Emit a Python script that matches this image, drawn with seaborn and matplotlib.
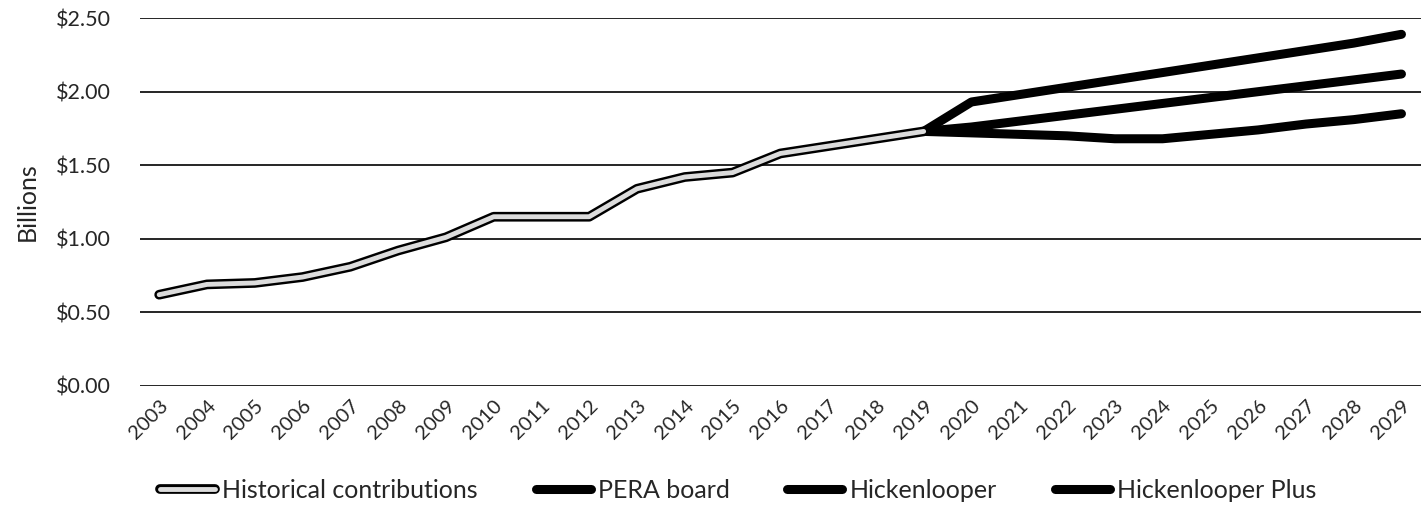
import matplotlib
matplotlib.use("Agg")
import matplotlib.pyplot as plt
import matplotlib.patheffects as pe
import seaborn as sns

sns.set_theme(style="white")
plt.rcParams["font.family"] = ["Lato", "DejaVu Sans"]

hist_years = list(range(2003, 2020))
hist_values = [0.62, 0.69, 0.70, 0.74, 0.81, 0.92, 1.01, 1.15, 1.15, 1.15,
               1.34, 1.42, 1.45, 1.58, 1.63, 1.68, 1.73]
proj_years = list(range(2019, 2030))
pera_board = [1.73, 1.72, 1.71, 1.70, 1.68, 1.68, 1.71, 1.74, 1.78, 1.81, 1.85]
hickenlooper = [1.73, 1.76, 1.80, 1.84, 1.88, 1.92, 1.96, 2.00, 2.04, 2.08, 2.12]
hickenlooper_plus = [1.73, 1.93, 1.98, 2.03, 2.08, 2.13, 2.18, 2.23, 2.28, 2.33, 2.39]
all_years = list(range(2003, 2030))
y_ticks = [0.0, 0.5, 1.0, 1.5, 2.0, 2.5]

fig, ax = plt.subplots(figsize=(14.22, 5.18), dpi=100)

for vals, lab in [(pera_board, "PERA board"), (hickenlooper, "Hickenlooper"),
                  (hickenlooper_plus, "Hickenlooper Plus")]:
    sns.lineplot(x=proj_years, y=vals, ax=ax, color="black", lw=6.5,
                 solid_capstyle="round", label=lab, zorder=3)

sns.lineplot(x=hist_years, y=hist_values, ax=ax, color="#dcdcdc", lw=3.5,
             label="Historical contributions", zorder=4,
             path_effects=[pe.Stroke(linewidth=7, foreground="black"), pe.Normal()])

for y in y_ticks:
    ax.axhline(y, color="black", lw=1.2, zorder=1)

ax.set_xlim(2002.6, 2029.4)
ax.set_ylim(0, 2.5)
ax.set_yticks(y_ticks)
ax.set_yticklabels([f"${v:.2f}" for v in y_ticks], fontsize=15.5)
ax.set_xticks(all_years)
ax.set_xticklabels([str(y) for y in all_years], rotation=45, ha="right",
                   rotation_mode="anchor", fontsize=14.5)
ax.tick_params(axis="y", length=0, pad=21)
ax.tick_params(axis="x", length=0, pad=8)
ax.set_xlabel("")
ax.set_ylabel("Billions", fontsize=18, labelpad=12)
sns.despine(ax=ax, left=True, bottom=True)

handles, labels = ax.get_legend_handles_labels()
order = [3, 0, 1, 2]
ax.get_legend().remove()
fig.legend([handles[i] for i in order], [labels[i] for i in order],
           loc="center left", bbox_to_anchor=(0.1125, 0.054),
           bbox_transform=fig.transFigure, ncol=4, frameon=False,
           fontsize=18, handlelength=2.2, columnspacing=2.3, handletextpad=0.3,
           borderpad=0, borderaxespad=0)

fig.subplots_adjust(left=0.0985, right=0.999, top=0.965, bottom=0.255)
fig.savefig("out.png", dpi=100)
